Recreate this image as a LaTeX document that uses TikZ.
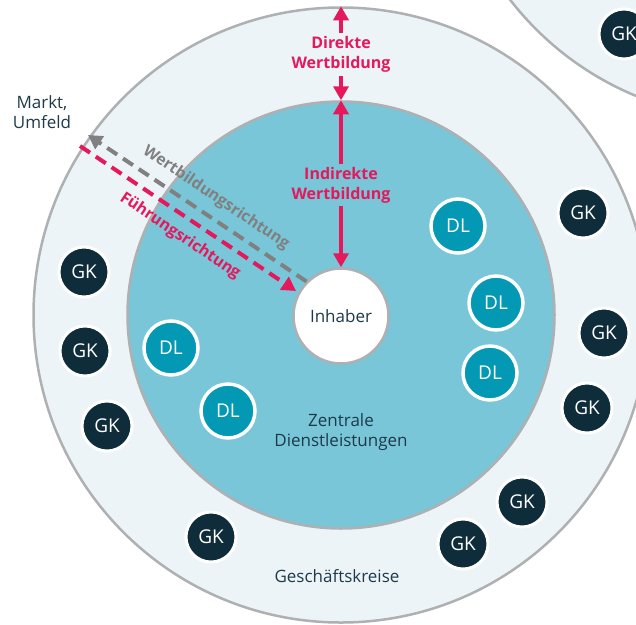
\documentclass[tikz,border=0pt]{standalone}
\usepackage{fontspec}
\setmainfont{Open Sans}
\usetikzlibrary{arrows.meta}
\definecolor{accent}{HTML}{E5185B}
\definecolor{ringline}{HTML}{AEB0B1}
\definecolor{outerfill}{HTML}{EDF4F7}
\definecolor{innerfill}{HTML}{78C6D8}
\definecolor{gkfill}{HTML}{0E2C3A}
\definecolor{dlfill}{HTML}{0399B5}
\definecolor{textdark}{HTML}{1E3A4A}
\definecolor{arrowgray}{HTML}{808080}
\begin{document}
\begin{tikzpicture}[x=1pt,y=-1pt,
  ring/.style={circle, draw=ringline, line width=2.5pt, inner sep=0pt},
  gk/.style={circle, fill=gkfill, draw=white, line width=3pt, minimum size=50pt,
    inner sep=0pt, text=white, font=\fontsize{19}{19}\selectfont},
  dl/.style={circle, fill=dlfill, draw=white, line width=3.5pt, minimum size=54pt,
    inner sep=0pt, text=white, font=\fontsize{19}{19}\selectfont},
  lbl/.style={align=center, text=textdark, font=\fontsize{17}{20.5}\selectfont},
  hot/.style={align=center, text=accent, inner sep=3pt,
    font=\bfseries\fontsize{16}{20}\selectfont},
  dirlabel/.style={inner sep=0pt, font=\bfseries\fontsize{15.8}{18}\selectfont},
  hotarrow/.style={draw=accent, line width=4pt,
    -{Triangle[length=14pt,width=15pt]}},
  dasharrow/.style={line width=4pt, dash pattern=on 12pt off 7pt,
    -{Triangle[length=14pt,width=15pt]}}
]
\clip (0,0) rectangle (636,624);

% rings
\node[ring, fill=outerfill, minimum size=614pt] (nbr) at (753,-188) {};
\node[ring, fill=outerfill, minimum size=615pt] (outer) at (341,315) {};
\node[ring, fill=innerfill, minimum size=427pt] (inner) at (341,315) {};
\node[ring, fill=white, minimum size=95pt, text=textdark,
  font=\fontsize{17}{17}\selectfont] (inh) at (341,316) {Inhaber};

% value creation labels and arrows
\node[hot] (dw) at (341,54.5) {Direkte\\Wertbildung};
\node[hot] (iw) at (341,185) {Indirekte\\Wertbildung};
\draw[hotarrow] (dw.north) -- (outer.north);
\draw[hotarrow] (dw.south) -- (inner.north);
\draw[hotarrow] (iw.north) -- (inner.north);
\draw[hotarrow] (iw.south) -- (inh.north);

% direction arrows
\coordinate (gEnd) at (88,135);
\coordinate (fStart) at (80,146);
\coordinate (fTip) at (296,291);
\draw[dasharrow, draw=arrowgray] (inh.135) -- (gEnd);
\draw[dasharrow, draw=accent] (fStart) -- (fTip);
\node[dirlabel, text=arrowgray, rotate=-33.9] (wr) at (216,198) {Wertbildungsrichtung};
\node[dirlabel, text=accent, rotate=-33.9] (fr) at (180,236) {Führungsrichtung};

% text labels
\node[lbl] (markt) at (42,112) {Markt,\\Umfeld};
\node[lbl] (zd) at (341,432) {Zentrale\\Dienstleistungen};
\node[lbl] (gkr) at (337,576) {Geschäftskreise};

% central services
\node[dl] (dl1) at (458,226) {DL};
\node[dl] (dl2) at (496,303) {DL};
\node[dl] (dl3) at (490,373) {DL};
\node[dl] (dl4) at (171,348) {DL};
\node[dl] (dl5) at (228,411) {DL};

% business circles
\node[gk] (gk0) at (624,34) {GK};
\node[gk] (gk1) at (583,213) {GK};
\node[gk] (gk2) at (84,272) {GK};
\node[gk] (gk3) at (85,351) {GK};
\node[gk] (gk4) at (107,426) {GK};
\node[gk] (gk5) at (604,333) {GK};
\node[gk] (gk6) at (587,408) {GK};
\node[gk] (gk7) at (522,502) {GK};
\node[gk] (gk8) at (463,544) {GK};
\node[gk] (gk9) at (211,537) {GK};
\end{tikzpicture}
\end{document}
